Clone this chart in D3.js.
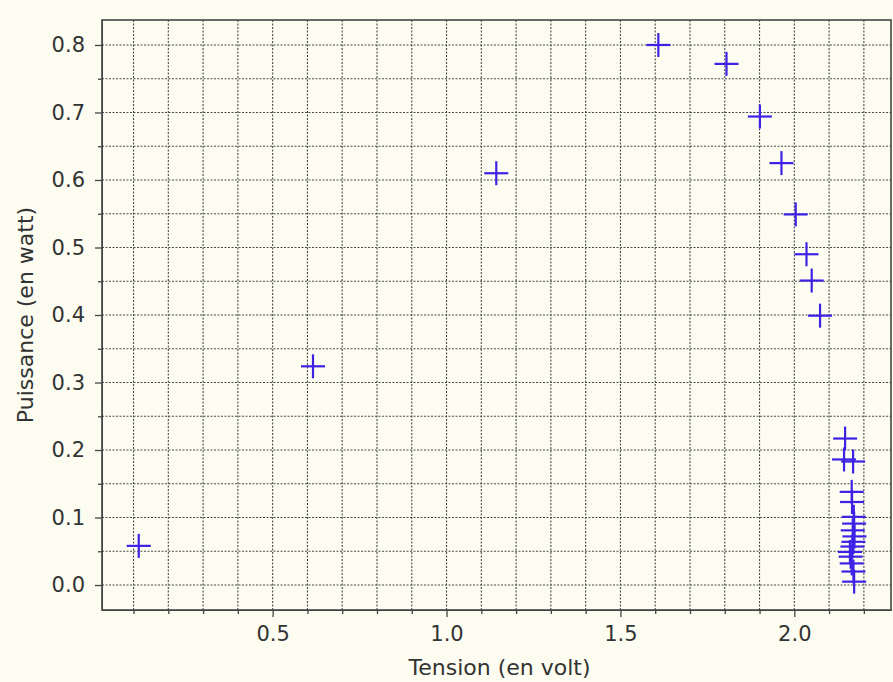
<!DOCTYPE html>
<html>
<head>
<meta charset="utf-8">
<script src="https://cdn.jsdelivr.net/npm/d3@7"></script>
<style>
  body { margin: 0; background: #fcfcf0; }
  svg { display: block; }
  text { font-family: "DejaVu Sans", sans-serif; fill: #333; }
  .grid line { stroke: #4a4a4a; stroke-width: 1.1; stroke-dasharray: 2,1.5; }
  .axis path, .axis line { stroke: #444; }
</style>
</head>
<body>
<script>
// measured values (tension in volt, puissance in watt)
const tension = [0.115, 0.616, 1.143, 1.609, 1.805, 1.901, 1.963, 2.004, 2.035, 2.050, 2.074,
    2.146, 2.143, 2.169, 2.165, 2.166, 2.171, 2.172, 2.168, 2.173, 2.170, 2.167,
    2.160, 2.162, 2.165, 2.170, 2.172];
const puissance = [0.058, 0.324, 0.610, 0.800, 0.772, 0.694, 0.625, 0.549, 0.490, 0.451, 0.399,
    0.217, 0.186, 0.183, 0.138, 0.123, 0.101, 0.091, 0.081, 0.072, 0.064, 0.057,
    0.049, 0.042, 0.032, 0.020, 0.005];
const xTicks = [0.5, 1.0, 1.5, 2.0];
const yTicks = [0.0, 0.1, 0.2, 0.3, 0.4, 0.5, 0.6, 0.7, 0.8];
const xMinor = [0.1, 0.2, 0.3, 0.4, 0.6, 0.7, 0.8, 0.9, 1.1, 1.2, 1.3, 1.4, 1.6, 1.7, 1.8, 1.9, 2.1, 2.2];
const yMinor = [0.05, 0.15, 0.25, 0.35, 0.45, 0.55, 0.65, 0.75];

const points = tension.map((t, i) => ({t: t, p: puissance[i]}));

const W = 893, H = 682;
const margin = {top: 20, right: 2, bottom: 72, left: 102},
    width = W - margin.left - margin.right,
    height = H - margin.top - margin.bottom;

const svg = d3.select("body").append("svg")
    .attr("width", W)
    .attr("height", H)
    .append("g")
    .attr("transform", "translate(" + margin.left + "," + margin.top + ")");

const x = d3.scaleLinear().domain([0.0093, 2.278]).range([0, width]);
const y = d3.scaleLinear().domain([-0.037, 0.837]).range([height, 0]);

// grid, major and minor
const grid = svg.append("g").attr("class", "grid");
grid.selectAll(".gx").data(xTicks.concat(xMinor)).enter().append("line")
    .attr("x1", d => x(d)).attr("x2", d => x(d))
    .attr("y1", 0).attr("y2", height);
grid.selectAll(".gy").data(yTicks.concat(yMinor)).enter().append("line")
    .attr("y1", d => y(d)).attr("y2", d => y(d))
    .attr("x1", 0).attr("x2", width);

// axes
const fmt = d3.format(".1f");
svg.append("g").attr("class", "axis")
    .attr("transform", "translate(0," + height + ")")
    .call(d3.axisBottom(x).tickValues(xTicks).tickFormat(fmt).tickSize(7).tickPadding(9).tickSizeOuter(0));
svg.append("g").attr("class", "axis")
    .attr("transform", "translate(0," + height + ")")
    .call(d3.axisBottom(x).tickValues(xMinor).tickFormat("").tickSize(4).tickSizeOuter(0));
svg.append("g").attr("class", "axis")
    .call(d3.axisLeft(y).tickValues(yTicks).tickFormat(fmt).tickSize(7).tickPadding(10).tickSizeOuter(0));
svg.append("g").attr("class", "axis")
    .call(d3.axisLeft(y).tickValues(yMinor).tickFormat("").tickSize(4).tickSizeOuter(0));

svg.selectAll(".axis text").style("font-size", "21px").style("fill", "#333");
svg.selectAll(".axis line").attr("stroke", "#444").attr("stroke-width", 1.3);
svg.selectAll(".axis path").attr("stroke", "none");

// frame
svg.append("rect")
    .attr("width", width).attr("height", height)
    .attr("fill", "none").attr("stroke", "#444").attr("stroke-width", 1.6);

// markers
const s = 12;
const marks = svg.append("g").selectAll("g").data(points).enter().append("g")
    .attr("transform", d => "translate(" + x(d.t) + "," + y(d.p) + ")")
    .attr("stroke", "#3d22e6").attr("stroke-width", 2.2);
marks.append("line").attr("x1", -s).attr("x2", s);
marks.append("line").attr("y1", -s).attr("y2", s);

// labels
svg.append("text")
    .attr("x", width / 2 + 3).attr("y", height + 65)
    .attr("text-anchor", "middle")
    .style("font-size", "22px")
    .text("Tension (en volt)");
svg.append("text")
    .attr("transform", "translate(" + (-69) + "," + (height / 2) + ") rotate(-90)")
    .attr("text-anchor", "middle")
    .style("font-size", "22px")
    .text("Puissance (en watt)");
</script>
</body>
</html>
